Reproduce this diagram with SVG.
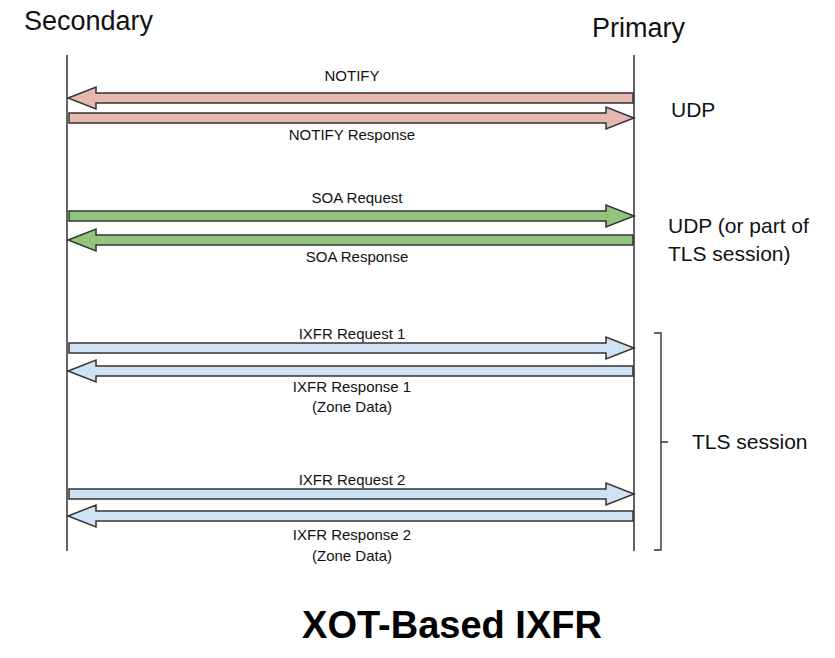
<svg xmlns="http://www.w3.org/2000/svg" width="835" height="658" viewBox="0 0 835 658">
<style>
text{font-family:"Liberation Sans",Arial,sans-serif;fill:#111}
.head{font-size:27px}
.side{font-size:21px}
.lbl{font-size:15px;text-anchor:middle}
.title{font-size:38px;font-weight:bold;text-anchor:middle;fill:#000}
.life{stroke:#222;stroke-width:1.4;fill:none}
.arr{stroke:#333;stroke-width:1.5;stroke-linejoin:miter}
.pink{fill:#e6b8af}.green{fill:#93c47d}.blue{fill:#cfe2f3}
</style>
<rect width="835" height="658" fill="#fff"/>
<g id="secondary">
<text class="head" x="24" y="30">Secondary</text>
<line class="life" x1="67" y1="55" x2="67" y2="551"/>
</g>
<g id="primary">
<text class="head" x="592" y="37">Primary</text>
<line class="life" x1="634" y1="55" x2="634" y2="551"/>
</g>
<g id="connectors">
<polygon class="arr pink" points="633,93 96,93 96,87 68,98 96,109 96,103 633,103"/>
<polygon class="arr pink" points="69,113 606,113 606,107 634,118 606,129 606,123 69,123"/>
<polygon class="arr green" points="69,211 606,211 606,205 634,216 606,227 606,221 69,221"/>
<polygon class="arr green" points="633,235 96,235 96,229 68,240 96,251 96,245 633,245"/>
<polygon class="arr blue" points="69,343 606,343 606,337 634,348 606,359 606,353 69,353"/>
<polygon class="arr blue" points="633,366 96,366 96,360 68,371 96,382 96,376 633,376"/>
<polygon class="arr blue" points="69,489 606,489 606,483 634,494 606,505 606,499 69,499"/>
<polygon class="arr blue" points="633,511 96,511 96,505 68,516 96,527 96,521 633,521"/>
<text class="lbl" x="352" y="81">NOTIFY</text>
<text class="lbl" x="352" y="140">NOTIFY Response</text>
<text class="lbl" x="357" y="203">SOA Request</text>
<text class="lbl" x="357" y="262">SOA Response</text>
<text class="lbl" x="352" y="339">IXFR Request 1</text>
<text class="lbl" x="352" y="392">IXFR Response 1</text>
<text class="lbl" x="352" y="412">(Zone Data)</text>
<text class="lbl" x="352" y="485">IXFR Request 2</text>
<text class="lbl" x="352" y="540">IXFR Response 2</text>
<text class="lbl" x="352" y="561">(Zone Data)</text>
</g>
<g id="udp">
<text class="side" x="671" y="117">UDP</text>
</g>
<g id="udp-or-tls">
<text class="side" x="668" y="233">UDP (or part of</text>
<text class="side" x="668" y="261">TLS session)</text>
</g>
<g id="tls-session">
<path d="M654,333 H661 V550 H654 M661,442 H668" fill="none" stroke="#333" stroke-width="1.4"/>
<text class="side" x="692" y="449">TLS session</text>
</g>
<g id="title">
<text class="title" x="452" y="638">XOT-Based IXFR</text>
</g>
</svg>
